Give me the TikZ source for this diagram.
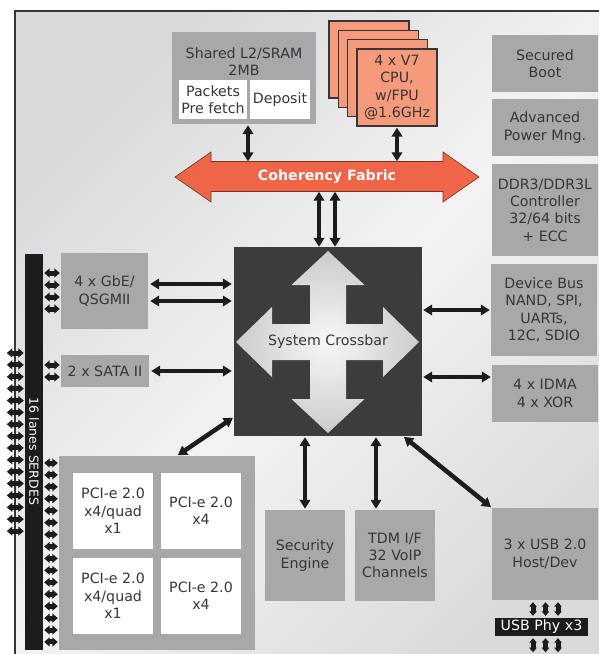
\documentclass[tikz,border=0pt]{standalone}
\usepackage{fontspec}
\setmainfont{DejaVu Sans}
\usetikzlibrary{arrows.meta,calc}
\definecolor{boxgray}{HTML}{A7A8AA}
\definecolor{txt}{HTML}{363636}
\definecolor{arr}{HTML}{1C1C1C}
\definecolor{xbarc}{HTML}{3C3C3C}
\definecolor{fabc}{HTML}{EE6548}
\definecolor{fabedge}{HTML}{7A3020}
\definecolor{cpuc}{HTML}{F69A7C}
\definecolor{bgedge}{HTML}{D9DADB}
\definecolor{bgmid}{HTML}{F3F3F3}
\begin{document}
\begin{tikzpicture}[x=1pt,y=-1pt,
  box/.style={fill=boxgray, text=txt, align=center, inner sep=0pt,
    font=\fontsize{14.2pt}{17.3pt}\selectfont},
  wbox/.style={box, fill=white},
  cpubox/.style={box, fill=cpuc, draw=txt, line width=1.2pt, minimum width=80pt, minimum height=77pt},
  big/.style={draw=arr, line width=4.5pt, >={Triangle[width=10.5pt,length=9pt]}, <->},
  small/.style={draw=arr, line width=5pt, >={Triangle[width=9pt,length=5.5pt]}, <->},
  tiny/.style={draw=arr, line width=5pt, >={Triangle[width=7.5pt,length=4.5pt]}, <->}
]
\clip (0,0) rectangle (599,654);
% background frame
\shade[shading=axis, top color=bgedge, bottom color=bgedge, middle color=bgmid, shading angle=45]
  (15,11) rectangle (620,680);
\draw[txt, line width=1.2pt] (15,680) -- (15,11) -- (620,11);

% Shared L2
\node[box, minimum width=144pt, minimum height=92pt] (l2) at (244,78) {};
\node[box, fill=none] (l2t) at (244,61.5) {Shared L2/SRAM\\2MB};
\node[wbox, minimum width=68pt, minimum height=39pt] (pkt) at (213,99.5) {Packets\\Pre fetch};
\node[wbox, minimum width=60pt, minimum height=39pt] (dep) at (280,99.5) {Deposit};

% CPU stack
\node[cpubox] (cpu1) at (369,59.5) {};
\node[cpubox] (cpu2) at (378.3,68.8) {};
\node[cpubox] (cpu3) at (387.7,78.2) {};
\node[cpubox] (cpu4) at (397,87.5) {4 x V7\\CPU,\\w/FPU\\@1.6GHz};

% Coherency fabric
\fill[fabc, draw=fabedge, line width=0.6pt]
  (175,177) -- (211,152) -- (211,161.5) -- (443,161.5) -- (443,152) -- (479,177)
  -- (443,202) -- (443,191.5) -- (211,191.5) -- (211,202) -- cycle;
\node[inner sep=0pt, minimum width=232pt, minimum height=30pt, text=white,
  font=\fontsize{14.2pt}{17pt}\selectfont\bfseries] (fab) at (327,176.5) {Coherency Fabric};

% right column
\node[box, minimum width=106pt, minimum height=57pt] (boot) at (545,63.5) {Secured\\Boot};
\node[box, minimum width=106pt, minimum height=57pt] (pwr) at (545,127.5) {Advanced\\Power Mng.};
\node[box, minimum width=106pt, minimum height=92pt] (ddr) at (545,210) {DDR3/DDR3L\\Controller\\32/64 bits\\+ ECC};
\node[box, minimum width=106pt, minimum height=92pt] (dbus) at (544,310) {Device Bus\\NAND, SPI,\\UARTs,\\12C, SDIO};
\node[box, minimum width=106pt, minimum height=57pt] (idma) at (545,393.5) {4 x IDMA\\4 x XOR};
\node[box, minimum width=106pt, minimum height=92pt] (usb) at (545,554) {3 x USB 2.0\\Host/Dev};
\node[box, fill=arr, text=white, minimum width=93pt, minimum height=18pt] (phy) at (541.5,627) {USB Phy x3};

% left side
\node[box, minimum width=87pt, minimum height=76pt] (gbe) at (104.5,291) {4 x GbE/\\QSGMII};
\node[box, minimum width=88pt, minimum height=32pt] (sata) at (105,371) {2 x SATA II};
\node[box, fill=arr, minimum width=18pt, minimum height=396pt] (serdes) at (34,452) {};
\node[text=white, rotate=-90, inner sep=0pt, font=\fontsize{12.5pt}{15pt}\selectfont] (serdest) at (34,451.5) {16 lanes SERDES};

% PCIe block
\node[box, minimum width=196pt, minimum height=194pt] (pcie) at (157,553) {};
\node[wbox, minimum width=80pt, minimum height=76pt] (pci1) at (113,511) {PCI-e 2.0\\x4/quad\\x1};
\node[wbox, minimum width=80pt, minimum height=76pt] (pci2) at (201,511) {PCI-e 2.0\\x4};
\node[wbox, minimum width=80pt, minimum height=76pt] (pci3) at (113,596) {PCI-e 2.0\\x4/quad\\x1};
\node[wbox, minimum width=80pt, minimum height=76pt] (pci4) at (201,596) {PCI-e 2.0\\x4};

% bottom boxes
\node[box, minimum width=80pt, minimum height=91pt] (sec) at (305,555.5) {Security\\Engine};
\node[box, minimum width=80pt, minimum height=91pt] (tdm) at (395,555.5) {TDM I/F\\32 VoIP\\Channels};

% crossbar
\node[fill=xbarc, minimum width=188pt, minimum height=189pt, inner sep=0pt] (xbar) at (328,341.5) {};
\begin{scope}[shift={(328,342)}]
\shade[inner color=white!97!black, outer color=black!20]
  (0,-91) -- (36.5,-57) -- (18,-57) -- (18,-18) -- (55,-18) -- (55,-35) -- (91,0)
  -- (55,35) -- (55,18) -- (18,18) -- (18,57) -- (36.5,57) -- (0,91)
  -- (-36.5,57) -- (-18,57) -- (-18,18) -- (-56,18) -- (-56,35) -- (-92,0)
  -- (-56,-35) -- (-56,-18) -- (-18,-18) -- (-18,-57) -- (-36.5,-57) -- cycle;
\end{scope}
\node[text=txt, inner sep=0pt, font=\fontsize{14.2pt}{17pt}\selectfont] (xbart) at (328,342) {System Crossbar};

% big connectors
\draw[big, shorten <=1pt] ([xshift=4pt]l2.south) -- ([xshift=4pt]l2.south |- fab.north);
\draw[big, shorten <=1pt] (cpu4.south) -- (cpu4.south |- fab.north);
\draw[big] ([xshift=-8pt]fab.south) -- ([xshift=-8pt]fab.south |- xbar.north);
\draw[big] ([xshift=8pt]fab.south) -- ([xshift=8pt]fab.south |- xbar.north);
\draw[big, shorten <=2pt, shorten >=2pt] ([yshift=7pt]gbe.east) -- ([yshift=7pt]gbe.east -| xbar.west);
\draw[big, shorten <=2pt, shorten >=2pt] ([yshift=-10pt]gbe.east) -- ([yshift=-10pt]gbe.east -| xbar.west);
\draw[big, shorten <=2pt, shorten >=2pt] (sata.east) -- (sata.east -| xbar.west);
\draw[big, shorten <=1pt, shorten >=1pt] (dbus.west -| xbar.east) -- (dbus.west);
\draw[big, shorten <=1pt, shorten >=1pt] ([yshift=16.5pt]idma.west -| xbar.east) -- ([yshift=16.5pt]idma.west);
\draw[big, shorten <=1pt, shorten >=1pt] ([yshift=19pt]xbar.south west) -- ([xshift=20pt]pcie.north);
\draw[big, shorten <=1pt, shorten >=1pt] (sec.north |- xbar.south) -- (sec.north);
\draw[big, shorten <=1pt, shorten >=1pt] ([xshift=-19pt]tdm.north |- xbar.south) -- ([xshift=-19pt]tdm.north);
\draw[big, shorten <=1pt, shorten >=1pt] ([xshift=-19pt]xbar.south east) -- (usb.north west);

% SERDES lanes
\foreach \i in {0,...,15} {
  \draw[small] ($(serdes.west |- 0,{353+11.87*\i})+(-1,0)$) -- ++(-17,0);
  \draw[small] ($(serdes.east |- 0,{463+11.93*\i})+(1,0)$) -- ($(pcie.west |- 0,{463+11.93*\i})+(-1,0)$);
}
\foreach \y in {273,285,297,309} {
  \draw[small] ($(serdes.east |- 0,\y)+(1,0)$) -- ($(gbe.west |- 0,\y)+(-1,0)$);
}
\foreach \y in {365,377} {
  \draw[small] ($(serdes.east |- 0,\y)+(1,0)$) -- ($(sata.west |- 0,\y)+(-1,0)$);
}
% USB phy
\foreach \x in {533,545.5,558} {
  \draw[tiny] ($(usb.south -| \x,0)+(0,2)$) -- ($(phy.north -| \x,0)+(0,-2)$);
  \draw[tiny] ($(phy.south -| \x,0)+(0,2)$) -- ++(0,14);
}
\end{tikzpicture}
\end{document}
